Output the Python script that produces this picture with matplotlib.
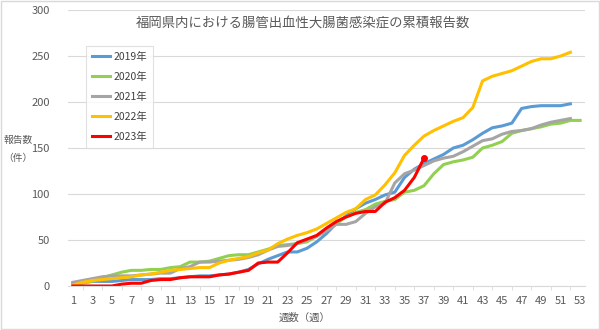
import matplotlib
matplotlib.use("Agg")
import matplotlib.pyplot as plt
from matplotlib.patches import Rectangle

plt.rcParams['font.family'] = ['Noto Sans CJK JP', 'DejaVu Sans']

# 週ごとの累積報告数
y2019 = [3, 4, 5, 5, 5, 6, 7, 7, 7, 8, 8, 9, 10, 11, 11, 12, 13, 15, 18, 24,
         29, 33, 37, 37, 41, 48, 57, 68, 76, 84, 90, 94, 99, 102, 118, 127, 133, 138, 143, 150,
         153, 159, 166, 172, 174, 177, 193, 195, 196, 196, 196, 198]
y2020 = [2, 3, 5, 9, 12, 15, 17, 17, 18, 18, 20, 21, 26, 26, 27, 30, 33, 34, 34, 37,
         40, 44, 45, 46, 48, 54, 61, 68, 75, 80, 83, 89, 92, 94, 102, 104, 109, 122, 132, 135,
         137, 140, 150, 153, 157, 166, 169, 171, 173, 176, 177, 180, 180]
y2021 = [4, 6, 8, 10, 11, 11, 11, 12, 13, 14, 14, 19, 21, 26, 26, 27, 28, 29, 31, 34,
         39, 43, 44, 46, 50, 54, 60, 67, 67, 70, 79, 86, 90, 112, 122, 126, 131, 136, 139, 141,
         146, 152, 158, 160, 165, 168, 169, 171, 175, 178, 180, 182]
y2022 = [1, 4, 6, 7, 8, 9, 10, 12, 13, 15, 17, 18, 19, 20, 20, 25, 28, 30, 32, 36,
         39, 46, 51, 55, 58, 62, 68, 74, 80, 84, 94, 99, 110, 123, 142, 153, 163, 169, 174, 179,
         183, 194, 223, 228, 231, 234, 239, 244, 247, 247, 250, 254]
y2023 = [0, 0, 0, 0, 0, 2, 3, 3, 6, 7, 7, 9, 10, 10, 10, 12, 13, 15, 17, 25,
         26, 26, 36, 47, 51, 55, 63, 70, 75, 79, 81, 81, 91, 96, 104, 118, 139]

series = [
    ("2019年", y2019, "#5B9BD5"),
    ("2020年", y2020, "#92D050"),
    ("2021年", y2021, "#A5A5A5"),
    ("2022年", y2022, "#FFC000"),
    ("2023年", y2023, "#FF0000"),
]

week_ticks = list(range(1, 54, 2))

fig = plt.figure(figsize=(6, 3.3), dpi=100)
ax = fig.add_axes([68/600, 44/330, 517/600, 276/330])

for name, vals, col in series:
    weeks = range(1, len(vals) + 1)
    ax.plot(weeks, vals, color=col, lw=2.2, label=name, solid_joinstyle='round')

# 2023年の最新週にだけマーカー
ax.plot(len(y2023), y2023[-1], 'o', color="#FF0000", ms=4)

ax.set_xlim(0.5, 53.5)
ax.set_ylim(0, 300)
ax.set_yticks(range(0, 301, 50))
ax.set_xticks(week_ticks)
ax.set_xticks(range(1, 54), minor=True)
ax.grid(axis='y', color='#D9D9D9', lw=0.8)
ax.set_axisbelow(True)
for s in ['left', 'right', 'top']:
    ax.spines[s].set_visible(False)
ax.spines['bottom'].set_color('#D9D9D9')
ax.tick_params(axis='y', length=0, pad=13, labelsize=8, labelcolor='#595959')
ax.tick_params(axis='x', which='major', length=0, pad=7, labelsize=8, labelcolor='#595959')
ax.tick_params(axis='x', which='minor', length=3, color='#D9D9D9', direction='out')

fig.text(0.505, 1 - 23/330, "福岡県内における腸管出血性大腸菌感染症の累積報告数",
         ha='center', va='center', fontsize=9.6, color='#595959')
fig.text(18/600, 1 - 140/330, "報告数", ha='center', va='center', fontsize=7, color='#595959')
fig.text(18/600, 1 - 158/330, "（件）", ha='center', va='center', fontsize=7, color='#595959')
fig.text(305/600, 1 - 318/330, "週数（週）", ha='center', va='center', fontsize=7.5, color='#595959')

leg = ax.legend(loc='upper left', bbox_to_anchor=(86/600, 1 - 46/330),
                bbox_transform=fig.transFigure, fontsize=7.5, frameon=True,
                handlelength=1.8, handletextpad=0.3, labelspacing=0.95,
                borderpad=0.55, borderaxespad=0, fancybox=False, labelcolor='#404040')
leg.get_frame().set_edgecolor('#D9D9D9')
leg.get_frame().set_linewidth(0.8)

fig.patches.append(Rectangle((0.002, 0.003), 0.996, 0.994, transform=fig.transFigure,
                             fill=False, edgecolor='#D9D9D9', lw=1))

fig.savefig("out.png", dpi=100)
